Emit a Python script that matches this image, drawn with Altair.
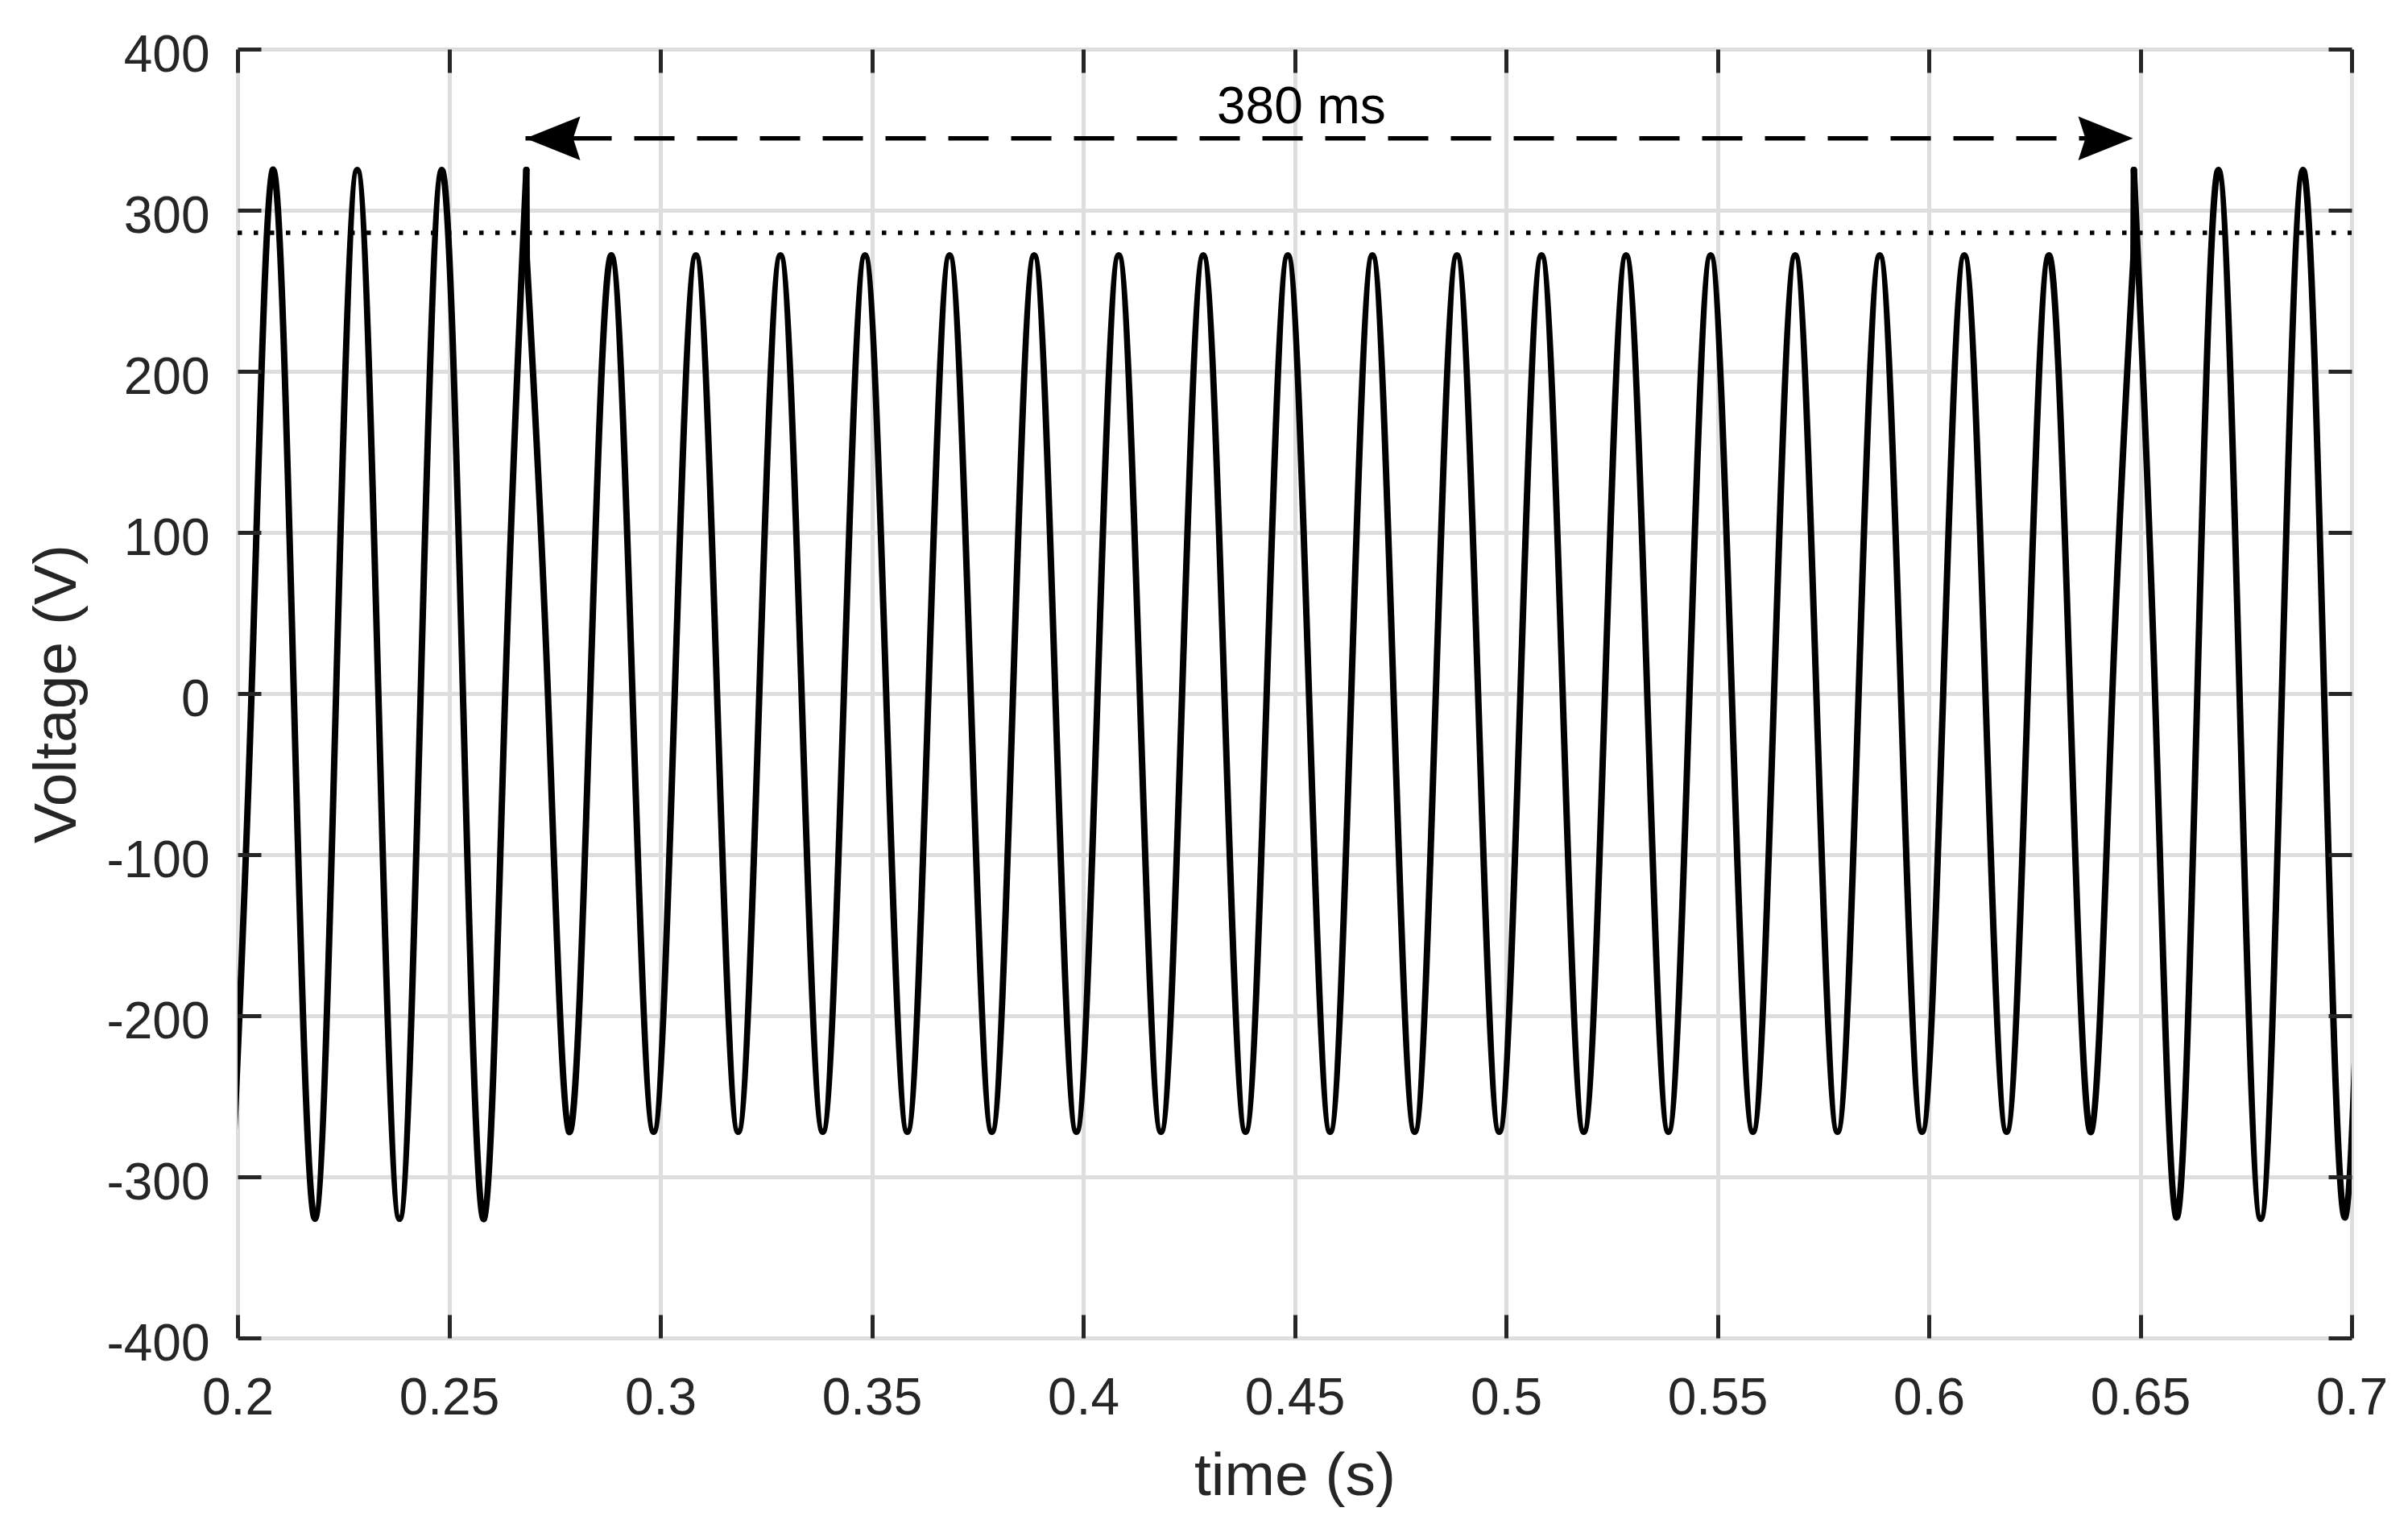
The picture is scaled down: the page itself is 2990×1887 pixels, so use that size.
import altair as alt
import pandas as pd

FONT = "Liberation Sans"
INK = "#262626"

# ---------------- data ----------------
X_TICKS = [0.2, 0.25, 0.3, 0.35, 0.4, 0.45, 0.5, 0.55, 0.6, 0.65, 0.7]
Y_TICKS = [-400, -300, -200, -100, 0, 100, 200, 300, 400]

HALF_PERIOD = 0.01  # s (50 Hz waveform)

# extremes (peaks / troughs), one every half period, zero crossings between them
PRE_START = 0.1983
PRE_EXTREMES = [-325, 325, -326, 325, -326, 325, -326, 325]

SAG_START = 0.2684
SAG_EXTREMES = [270,
                -272, 272, -272, 272, -272, 272, -272, 272, -272, 272,
                -272, 272, -272, 272, -272, 272, -272, 272, -272, 272,
                -272, 272, -272, 272, -272, 272, -272, 272, -272, 272,
                -272, 272, -272, 272, -272, 272,
                -272, 271]

POST_START = 0.6485
POST_EXTREMES = [325, -325, 325, -326, 325, -325, 325]

THRESHOLD_T = [0.2, 0.7]
THRESHOLD_V = [286, 286]

ARROW_T = [0.2681, 0.6483]
ARROW_V = [344.6, 344.6]
ARROW_SIDE = ["left", "right"]

LABEL_T = [0.4516]
LABEL_V = [354]
LABEL_TEXT = ["380 ms"]

# ---------------- tables ----------------
rows = []


def add_segment(seg, t0, extremes):
    i = 0
    for k, v in enumerate(extremes):
        t = t0 + k * HALF_PERIOD
        if k:
            rows.append({"seg": seg, "i": i, "t": round(t - HALF_PERIOD / 2, 5), "v": 0})
            i += 1
        rows.append({"seg": seg, "i": i, "t": round(t, 5), "v": v})
        i += 1


add_segment("pre", PRE_START, PRE_EXTREMES)
add_segment("sag", SAG_START, SAG_EXTREMES)
add_segment("post", POST_START, POST_EXTREMES)
pre_end = round(PRE_START + (len(PRE_EXTREMES) - 1) * HALF_PERIOD, 5)
sag_end = round(SAG_START + (len(SAG_EXTREMES) - 1) * HALF_PERIOD, 5)
rows += [
    {"seg": "drop", "i": 0, "t": pre_end, "v": PRE_EXTREMES[-1]},
    {"seg": "drop", "i": 1, "t": SAG_START, "v": SAG_EXTREMES[0]},
    {"seg": "rise", "i": 0, "t": sag_end, "v": SAG_EXTREMES[-1]},
    {"seg": "rise", "i": 1, "t": POST_START, "v": POST_EXTREMES[0]},
]
wave_df = pd.DataFrame(rows)
thr_df = pd.DataFrame({"t": THRESHOLD_T, "v": THRESHOLD_V})
arr_df = pd.DataFrame({"t": ARROW_T, "v": ARROW_V, "side": ARROW_SIDE})
lab_df = pd.DataFrame({"t": LABEL_T, "v": LABEL_V, "label": LABEL_TEXT})

# ---------------- scales & axes ----------------
xs = alt.Scale(domain=[0.2, 0.7], nice=False, zero=False)
ys = alt.Scale(domain=[-400, 400], nice=False, zero=False)

common_lab = dict(labelFont=FONT, labelFontSize=64, labelColor=INK,
                  labelFlush=False, labelOverlap=False,
                  labelExpr="'' + datum.value")
common_title = dict(titleFont=FONT, titleFontSize=75, titleColor=INK,
                    titleFontWeight="normal", titleBaseline="alphabetic")
grid = dict(grid=True, gridColor="#dedede", gridWidth=5)

main_x = alt.Axis(orient="bottom", values=X_TICKS, ticks=False, tickSize=0,
                  domain=False, labelPadding=43, title="time (s)", titleY=194,
                  **common_lab, **common_title, **grid)
main_y = alt.Axis(orient="left", values=Y_TICKS, ticks=False, tickSize=0,
                  domain=False, labelPadding=35, labelOffset=8,
                  title="Voltage (V)", titleAngle=270, titleX=-202, titleY=800,
                  titleAlign="center", **common_lab, **common_title, **grid)


def tick_axis(orient, values):
    return alt.Axis(orient=orient, offset=-29, values=values, ticks=True,
                    tickSize=29, tickWidth=5, tickColor=INK, labels=False,
                    domain=False, grid=False, title="", zindex=1)


# ---------------- layers ----------------
wave = alt.Chart(wave_df).mark_line(
    interpolate="natural", color="black", strokeWidth=8, clip=True,
    strokeCap="round", strokeJoin="round"
).encode(
    x=alt.X("t:Q", scale=xs, axis=main_x),
    y=alt.Y("v:Q", scale=ys, axis=main_y),
    detail="seg:N",
    order="i:Q",
)

thr = alt.Chart(thr_df).mark_line(
    color="black", strokeWidth=5.5, strokeDash=[5.5, 14.5], strokeCap="butt"
).encode(
    x=alt.X("t:Q", scale=xs, axis=tick_axis("top", X_TICKS)),
    y=alt.Y("v:Q", scale=ys, axis=tick_axis("left", Y_TICKS)),
)

arrow_line = alt.Chart(arr_df).mark_line(
    color="black", strokeWidth=5.5, strokeDash=[50, 28], strokeDashOffset=21,
    strokeCap="butt"
).encode(
    x=alt.X("t:Q", scale=xs, axis=tick_axis("bottom", X_TICKS)),
    y=alt.Y("v:Q", scale=ys, axis=tick_axis("right", Y_TICKS)),
)

RIGHT_HEAD = "M0,0 L-1,-0.4 L-0.87,0 L-1,0.4 Z"
LEFT_HEAD = "M0,0 L1,-0.4 L0.87,0 L1,0.4 Z"

head_l = alt.Chart(arr_df).transform_filter(alt.datum.side == "left").mark_point(
    shape=LEFT_HEAD, size=18500, filled=True, color="black", opacity=1, strokeWidth=0
).encode(
    x=alt.X("t:Q", scale=xs, axis=None),
    y=alt.Y("v:Q", scale=ys, axis=None),
)
head_r = alt.Chart(arr_df).transform_filter(alt.datum.side == "right").mark_point(
    shape=RIGHT_HEAD, size=18500, filled=True, color="black", opacity=1, strokeWidth=0
).encode(
    x=alt.X("t:Q", scale=xs, axis=None),
    y=alt.Y("v:Q", scale=ys, axis=None),
)

label = alt.Chart(lab_df).mark_text(
    font=FONT, fontSize=64, color="black", align="center", baseline="alphabetic"
).encode(
    x=alt.X("t:Q", scale=xs, axis=None),
    y=alt.Y("v:Q", scale=ys, axis=None),
    text="label:N",
)

chart = alt.layer(wave, thr, arrow_line, head_l, head_r, label).resolve_axis(
    x="independent", y="independent"
).properties(
    width=2625,
    height=1600,
    autosize=alt.AutoSizeParams(type="none"),
    padding={"left": 287, "top": 53, "right": 62, "bottom": 210},
    background="white",
).configure_view(
    stroke=INK, strokeWidth=5.5
).configure(font=FONT)

chart.save("out.html", embed_options={"renderer": "svg", "actions": False})
